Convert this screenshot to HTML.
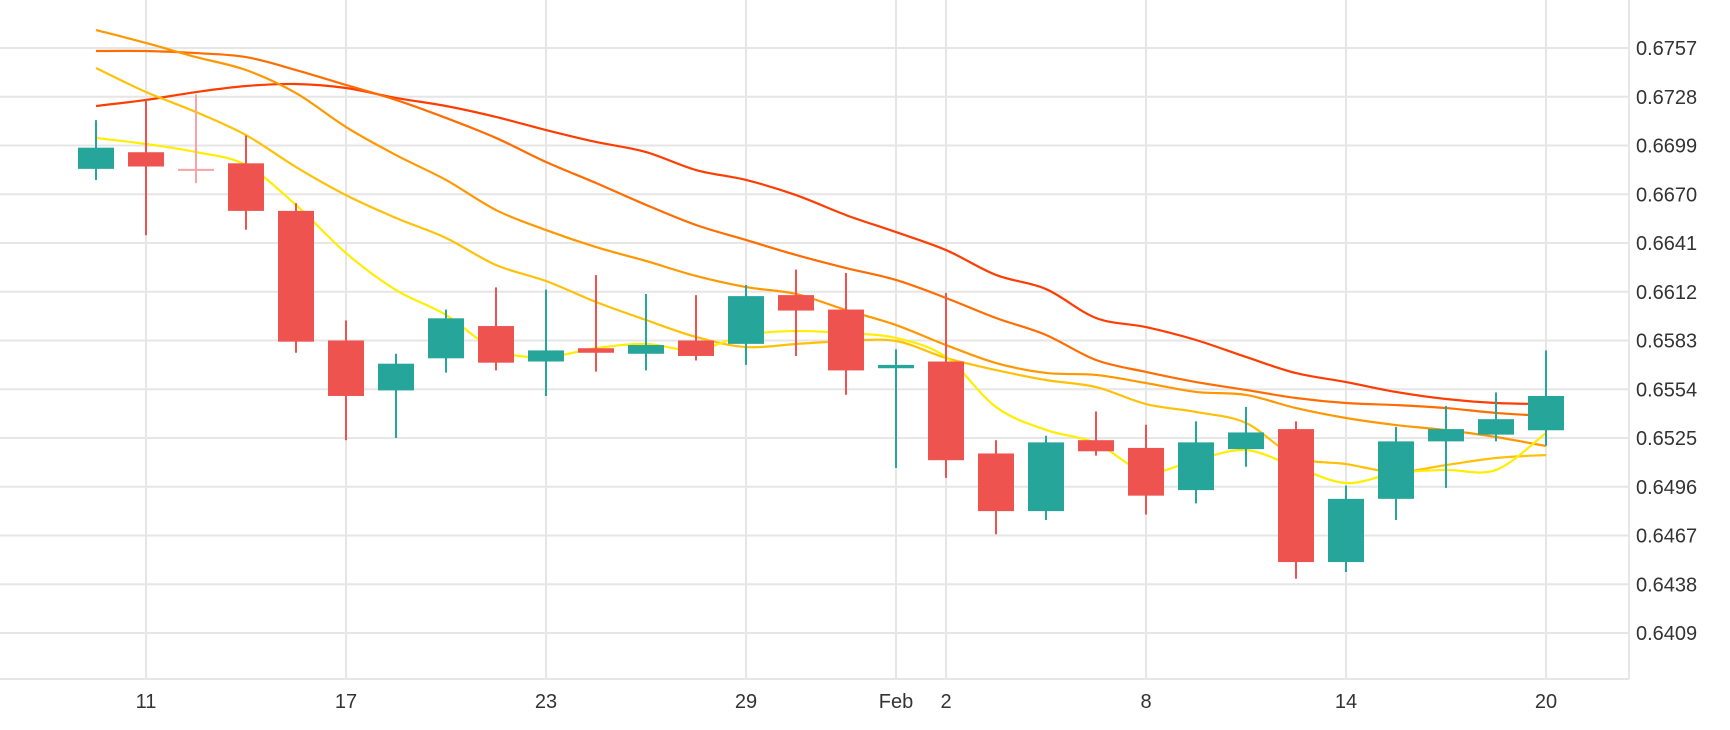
<!DOCTYPE html>
<html><head><meta charset="utf-8">
<style>
html,body{margin:0;padding:0;background:#fff;}
svg{display:block;font-family:"Liberation Sans","DejaVu Sans",sans-serif;}
</style></head>
<body>
<svg id="chart" width="1730" height="730" viewBox="0 0 1730 730" xmlns="http://www.w3.org/2000/svg">
<g id="grid"></g>
<g id="lines"></g>
<g id="candles"></g>
<g id="axes"></g>
</svg>
<script>
const dates = ["Jan 10","11","12","15","16","17","18","19","22","23","24","25","26","29","30","31","Feb 1","2","5","6","7","8","9","12","13","14","15","16","19","20"];
const opens  = [.66851,.66950,.66851,.66884,.66601,.65830,.65533,.65724,.65916,.65705,.65784,.65751,.65830,.65810,.66100,.66014,.65665,.65705,.65158,.64815,.65237,.65191,.64940,.65184,.65303,.64512,.64888,.65230,.65270,.65296];
const highs  = [.67141,.67260,.67293,.67049,.66647,.65949,.65751,.66014,.66146,.66133,.66219,.66107,.66100,.66160,.66252,.66232,.65777,.66113,.65237,.65263,.65408,.65329,.65349,.65435,.65349,.64967,.65316,.65441,.65521,.65771];
const lows   = [.66785,.66456,.66766,.66489,.65757,.65237,.65250,.65639,.65652,.65500,.65645,.65652,.65711,.65685,.65738,.65507,.65072,.65013,.64677,.64762,.65145,.64795,.64861,.65079,.64413,.64453,.64762,.64953,.65230,.65204];
const closes = [.66977,.66865,.66845,.66601,.65823,.65500,.65692,.65962,.65698,.65771,.65757,.65803,.65738,.66094,.66008,.65652,.65685,.65118,.64815,.65224,.65171,.64907,.65224,.65283,.64512,.64888,.65230,.65303,.65362,.65500];
const maYellow = [.67035,.66999,.66951,.66874,.66636,.66350,.66130,.65982,.65773,.65732,.65785,.65809,.65773,.65863,.65886,.65874,.65845,.65732,.65434,.65298,.65220,.65048,.65119,.65178,.65077,.64982,.65042,.65060,.65060,.65280];
const maAmber  = [.67451,.67308,.67189,.67052,.66862,.66695,.66559,.66440,.66279,.66184,.66059,.65952,.65851,.65791,.65809,.65827,.65827,.65726,.65654,.65595,.65553,.65452,.65405,.65339,.65137,.65095,.65048,.65089,.65131,.65149];
const maOrange = [.67677,.67600,.67516,.67439,.67302,.67100,.66933,.66785,.66606,.66487,.66386,.66303,.66214,.66148,.66107,.66011,.65922,.65803,.65696,.65637,.65625,.65577,.65524,.65506,.65428,.65369,.65327,.65297,.65256,.65202];
const maDeep   = [.67552,.67552,.67540,.67516,.67439,.67350,.67261,.67154,.67035,.66892,.66767,.66637,.66517,.66428,.66339,.66261,.66190,.66083,.65964,.65863,.65714,.65643,.65583,.65536,.65488,.65458,.65446,.65428,.65399,.65381];
const maRed    = [.67225,.67261,.67308,.67344,.67356,.67332,.67273,.67225,.67160,.67082,.67011,.66951,.66844,.66785,.66695,.66576,.66475,.66368,.66220,.66136,.65964,.65910,.65833,.65732,.65636,.65583,.65524,.65482,.65458,.65452];
const yTicks = ["0.6757","0.6728","0.6699","0.6670","0.6641","0.6612","0.6583","0.6554","0.6525","0.6496","0.6467","0.6438","0.6409"];
const xTickIdx = [1,5,9,13,16,17,21,25,29];
const xTickLabels = ["11","17","23","29","Feb","2","8","14","20"];

const NS="http://www.w3.org/2000/svg";
const X0=96, DX=50, PLOT_R=1629, PLOT_B=679;
function xs(i){return X0+DX*i;}
function ys(v){return 48+(0.6757-v)/0.0029*48.75;}
function mk(tag,attrs,parent){const e=document.createElementNS(NS,tag);for(const k in attrs)e.setAttribute(k,attrs[k]);parent.appendChild(e);return e;}

const grid=document.getElementById('grid');
yTicks.forEach(function(t){
  const y=ys(parseFloat(t));
  const l=mk('line',{x1:0,x2:PLOT_R,y1:y,y2:y,stroke:'#e6e6e6','stroke-width':2},grid);
  
  
});
xTickIdx.forEach(function(i){
  const l=mk('line',{x1:xs(i),x2:xs(i),y1:0,y2:PLOT_B,stroke:'#e6e6e6','stroke-width':2},grid);
  
  
});
const axes=document.getElementById('axes');
const bb=mk('line',{x1:0,x2:PLOT_R,y1:PLOT_B,y2:PLOT_B,stroke:'#e6e6e6','stroke-width':2},axes);


const rb=mk('line',{x1:PLOT_R,x2:PLOT_R,y1:0,y2:PLOT_B,stroke:'#e6e6e6','stroke-width':2},axes);


yTicks.forEach(function(t){
  const tx=mk('text',{x:1636,y:ys(parseFloat(t))+7,'font-size':20,fill:'#333'},axes);
  tx.textContent=t;
  
  
});
xTickIdx.forEach(function(i,k){
  const tx=mk('text',{x:xs(i),y:708,'font-size':20,fill:'#333','text-anchor':'middle'},axes);
  tx.textContent=xTickLabels[k];
  
  
});

function smoothPath(vals){
  const p=vals.map(function(v,i){return [xs(i),ys(v)];});
  let d='M'+p[0][0]+','+p[0][1];
  for(let i=0;i<p.length-1;i++){
    const p0=p[Math.max(0,i-1)],p1=p[i],p2=p[i+1],p3=p[Math.min(p.length-1,i+2)];
    const c1x=p1[0]+(p2[0]-p0[0])/6,c1y=p1[1]+(p2[1]-p0[1])/6;
    const c2x=p2[0]-(p3[0]-p1[0])/6,c2y=p2[1]-(p3[1]-p1[1])/6;
    d+=' C'+c1x+','+c1y+' '+c2x+','+c2y+' '+p2[0]+','+p2[1];
  }
  return d;
}
const lines=document.getElementById('lines');
[[maRed,'#ff3d00','ma-red'],[maDeep,'#ff6d00','ma-deep-orange'],[maOrange,'#ff9800','ma-orange'],[maAmber,'#ffc107','ma-amber'],[maYellow,'#ffee00','ma-yellow']].forEach(function(s){
  const p=mk('path',{d:smoothPath(s[0]),fill:'none',stroke:s[1],'stroke-width':2.2},lines);
  
  
});

const cg=document.getElementById('candles');
dates.forEach(function(d,i){
  const o=opens[i],c=closes[i],h=highs[i],l=lows[i];
  const up=c>=o;
  let col=up?'#26a69a':'#ef5350';
  if(!up && Math.abs(o-c)<0.0001) col='#f7a5a4';
  const g=mk('g',{},cg);
  
  
  mk('line',{x1:xs(i),x2:xs(i),y1:ys(h),y2:ys(l),stroke:col,'stroke-width':2},g);
  const top=Math.min(ys(o),ys(c));
  const hgt=Math.max(2,Math.abs(ys(o)-ys(c)));
  mk('rect',{x:xs(i)-18,y:top,width:36,height:hgt,fill:col},g);
});
</script>
</body></html>
